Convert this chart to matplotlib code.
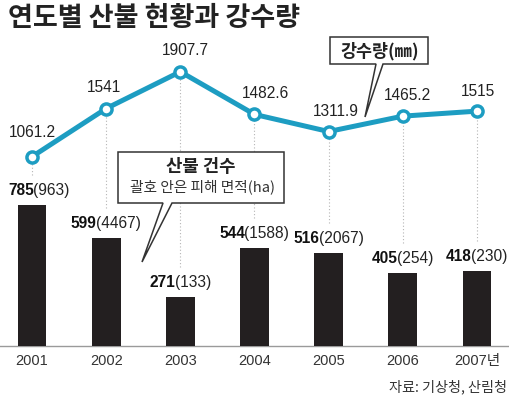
import matplotlib
matplotlib.use("Agg")
import matplotlib.pyplot as plt
from matplotlib.patches import Polygon
import matplotlib.transforms as mtransforms

# ---- data ----
years = ["2001", "2002", "2003", "2004", "2005", "2006", "2007년"]
fires = [785, 599, 271, 544, 516, 405, 418]          # 산불 건수
areas = [963, 4467, 133, 1588, 2067, 254, 230]       # 피해 면적(ha)
rain = [1061.2, 1541, 1907.7, 1482.6, 1311.9, 1465.2, 1515]  # 강수량(mm)
rain_labels = ["1061.2", "1541", "1907.7", "1482.6", "1311.9", "1465.2", "1515"]

W, H = 510, 397
TEAL = "#1d9dc2"
BAR = "#231f20"
NUM_FONT = ["Liberation Sans", "DejaVu Sans"]
KR_FONT = ["Noto Sans CJK KR", "DejaVu Sans"]

fig = plt.figure(figsize=(W / 100, H / 100), dpi=100)
fig.patch.set_facecolor("white")

base_px = 346
ax = fig.add_axes([0, (H - base_px) / H, 1, base_px / H])
ax.set_xlim(-0.431, 6.445)
ax.set_ylim(0, 1926)
ax2 = ax.twinx()
ax2.set_ylim(-824.3, 2622)

x = list(range(len(years)))

ax.bar(x, fires, width=0.39, color=BAR, zorder=3)
ax2.plot(x, rain, color=TEAL, lw=3.6, marker="o", ms=8, mfc="white",
         mec=TEAL, mew=2.5, zorder=5, solid_joinstyle="round")

for a in (ax, ax2):
    for s in a.spines.values():
        s.set_visible(False)
    a.set_yticks([])
ax.spines["bottom"].set_visible(True)
ax.spines["bottom"].set_color("#9a9a9a")
ax.spines["bottom"].set_linewidth(1.0)
ax.set_xticks(x)
ax.set_xticklabels(years, fontsize=10.5, color="#333333",
                   family=["Liberation Sans", "Noto Sans CJK KR"])
ax.tick_params(axis="x", length=0, pad=6)
ax.patch.set_alpha(0)
ax2.patch.set_alpha(0)

# dotted guide lines from the rain markers down to the bar labels
fig.canvas.draw()
to_ax = ax2.transData + ax.transData.inverted()
for i in x:
    y_top = to_ax.transform((i, rain[i]))[1]
    y_bot = fires[i] + 30 * (1926 / base_px)
    ax.plot([i, i], [y_bot, y_top], color="#b5b5b5", lw=0.8,
            ls=(0, (1, 2)), zorder=1)

# rain value labels
label_dx = [0, -2, 5, 11, 7, 5, 1]
label_dy = [24, 21, 21, 21, 20, 21, 20]
for i in x:
    ax2.annotate(rain_labels[i], (i, rain[i]), xytext=(label_dx[i], label_dy[i]),
                 textcoords="offset pixels", ha="center", va="center",
                 fontsize=11.2, family=NUM_FONT, color="#222222", zorder=6)

# bar labels: bold count + regular (area)
renderer = fig.canvas.get_renderer()
for i in x:
    t1 = ax.annotate(str(fires[i]), (i, fires[i]), xytext=(0, 10),
                     textcoords="offset pixels", ha="left", va="baseline",
                     fontsize=11.2, fontweight="bold", family=NUM_FONT,
                     color="#111111", zorder=6)
    t2 = ax.annotate(f"({areas[i]})", (i, fires[i]), xytext=(0, 10),
                     textcoords="offset pixels", ha="left", va="baseline",
                     fontsize=11.2, family=NUM_FONT, color="#222222", zorder=6)
    w1 = t1.get_window_extent(renderer).width
    w2 = t2.get_window_extent(renderer).width
    left = -(w1 + w2) / 2
    cx = ax.transData.transform((i, 0))[0]
    if cx + left < 8:
        left = 8 - cx
    t1.set_position((left, 10))
    t2.set_position((left + w1 - 0.5, 10))

# pixel transform (from top-left)
pxT = mtransforms.Affine2D().scale(1 / W, -1 / H).translate(0, 1) + fig.transFigure

def bubble(pts):
    p = Polygon(pts, closed=True, transform=pxT, facecolor="white",
                edgecolor="#333333", lw=1.1, zorder=10, joinstyle="miter")
    fig.add_artist(p)

bubble([(330, 37), (428, 37), (428, 64), (383, 64), (365, 117),
        (376, 64), (330, 64)])
fig.text(380, 51, "강수량(㎜)", transform=pxT, ha="center", va="center",
         fontsize=12.5, fontweight="bold", family=KR_FONT, color="#222222",
         zorder=11)

bubble([(118, 152), (284, 152), (284, 203), (172, 203), (142, 262),
        (163, 203), (118, 203)])
fig.text(201, 167, "산불 건수", transform=pxT, ha="center", va="center",
         fontsize=12.8, fontweight="bold", family=KR_FONT, color="#222222",
         zorder=11)
fig.text(203, 187, "괄호 안은 피해 면적(ha)", transform=pxT, ha="center",
         va="center", fontsize=10.6, family=KR_FONT, color="#333333", zorder=11)

# title and source
fig.text(8, 18, "연도별 산불 현황과 강수량", transform=pxT, ha="left",
         va="center", fontsize=19.5, fontweight="bold", family=KR_FONT,
         color="#222222")
fig.text(507, 387, "자료: 기상청, 산림청", transform=pxT, ha="right",
         va="center", fontsize=10.2, family=KR_FONT, color="#333333")

fig.savefig("out.png", dpi=100, facecolor="white")
